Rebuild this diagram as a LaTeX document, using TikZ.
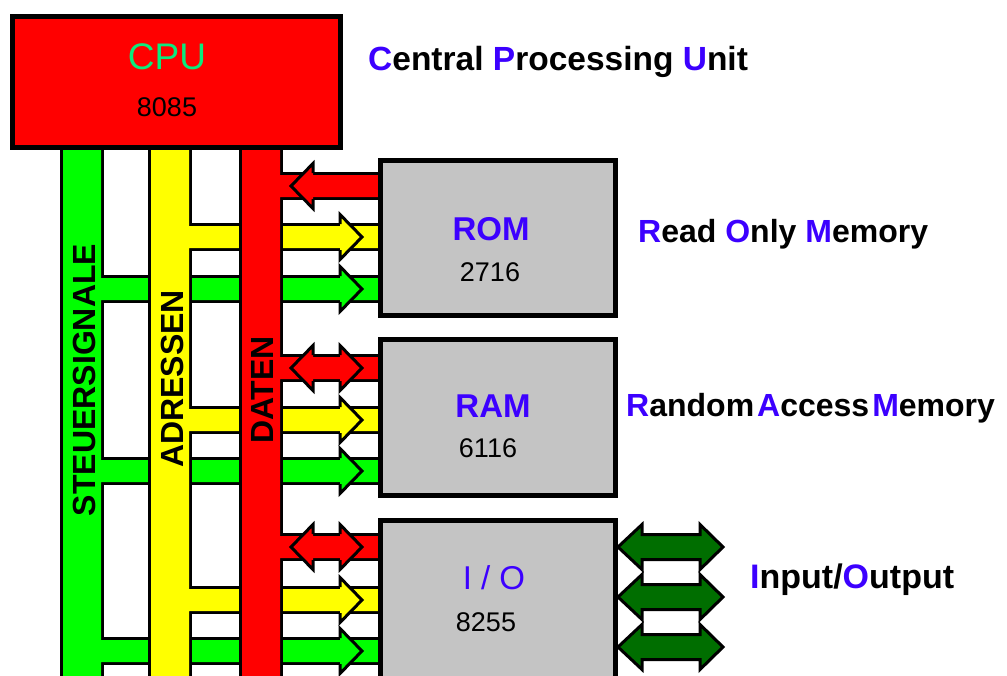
\documentclass[tikz,border=0pt]{standalone}
\usepackage{fontspec}
\setmainfont{Liberation Sans}
\definecolor{cgreen}{RGB}{0,255,0}
\definecolor{cyellow}{RGB}{255,255,0}
\definecolor{cred}{RGB}{255,0,0}
\definecolor{cgray}{RGB}{196,196,196}
\definecolor{cblue}{RGB}{60,0,255}
\definecolor{ccpu}{RGB}{10,235,125}
\definecolor{cdark}{RGB}{0,110,0}
\newcommand\capb[1]{\textcolor{cblue}{#1}}
\newcommand\rhead[2]{%
  \fill[#2] (340,#1-22.5) -- (362,#1) -- (340,#1+22.5) -- cycle;
  \draw[line width=3pt] (340,#1-13) -- (340,#1-22.5) -- (362,#1) -- (340,#1+22.5) -- (340,#1+13);}
\newcommand\lhead[2]{%
  \fill[#2] (313,#1-22.5) -- (291,#1) -- (313,#1+22.5) -- cycle;
  \draw[line width=3pt] (313,#1-13) -- (313,#1-22.5) -- (291,#1) -- (313,#1+22.5) -- (313,#1+13);}
\tikzset{
  busgroup/.style={fill=#1, preaction={draw=black, line width=6pt}},
  membox/.style={draw=black, line width=5pt, fill=cgray, minimum width=235pt, inner sep=0pt},
  cpubox/.style={draw=black, line width=5pt, fill=cred, minimum width=328pt, minimum height=131pt, inner sep=0pt},
  lbl/.style={inner sep=0pt, outer sep=0pt},
  buslbl/.style={inner sep=0pt, rotate=90, font=\bfseries\fontsize{32}{36}\selectfont},
  sidelbl/.style={inner sep=0pt, anchor=base west, font=\bfseries\fontsize{32}{38}\selectfont},
  ioarrow/.style={fill=cdark, draw=black, line width=3pt}
}
\begin{document}
\begin{tikzpicture}[x=1pt,y=-1pt]
\useasboundingbox (0,0) rectangle (1007,675);
\clip (0,0) rectangle (1007,675);
\fill[white] (0,0) rectangle (1007,675);

% control bus (green)
\path[busgroup=cgreen] (63,140) rectangle (101,690)
  (101,278) rectangle (380,300)
  (101,460) rectangle (380,482)
  (101,640) rectangle (380,662);
% address bus (yellow)
\path[busgroup=cyellow] (151,140) rectangle (189,690)
  (189,226) rectangle (380,248)
  (189,409) rectangle (380,431)
  (189,589) rectangle (380,611);
% data bus (red)
\path[busgroup=cred] (242,140) rectangle (280,690)
  (280,175) rectangle (380,197)
  (280,357) rectangle (380,379)
  (280,536) rectangle (380,558);

% arrow heads
\lhead{186}{cred}
\rhead{237}{cyellow}
\rhead{289}{cgreen}
\lhead{368}{cred}
\rhead{368}{cred}
\rhead{420}{cyellow}
\rhead{471}{cgreen}
\lhead{547}{cred}
\rhead{547}{cred}
\rhead{600}{cyellow}
\rhead{651}{cgreen}

% boxes
\node[cpubox] (cpu) at (176.5,82) {};
\node[membox, minimum height=155pt] (rom) at (498,238) {};
\node[membox, minimum height=156pt] (ram) at (498,417.5) {};
\node[membox, minimum height=160pt] (io) at (498,600.5) {};

% I/O port arrows
\foreach \c in {547,597,647} {
  \draw[ioarrow] (618,\c) -- (642,\c-22.5) -- (642,\c-12.5) -- (700,\c-12.5)
    -- (700,\c-22.5) -- (723,\c) -- (700,\c+22.5) -- (700,\c+12.5)
    -- (642,\c+12.5) -- (642,\c+22.5) -- cycle;
}

% texts in boxes
\node[lbl, text=ccpu, font=\fontsize{37}{40}\selectfont] (cputxt) at (167,57) {CPU};
\node[lbl, font=\fontsize{27}{30}\selectfont] (cpunum) at (167,107) {8085};
\node[lbl, text=cblue, font=\bfseries\fontsize{33}{36}\selectfont] (romtxt) at (491,229) {ROM};
\node[lbl, font=\fontsize{27}{30}\selectfont] (romnum) at (490,272) {2716};
\node[lbl, text=cblue, font=\bfseries\fontsize{33}{36}\selectfont] (ramtxt) at (493,406) {RAM};
\node[lbl, font=\fontsize{27}{30}\selectfont] (ramnum) at (488,448) {6116};
\node[lbl, text=cblue, font=\fontsize{33}{36}\selectfont] (iotxt) at (494,578) {I / O};
\node[lbl, font=\fontsize{27}{30}\selectfont] (ionum) at (486,622) {8255};

% bus labels
\node[buslbl] (steuer) at (84,380) {STEUERSIGNALE};
\node[buslbl] (adr) at (172,379) {ADRESSEN};
\node[buslbl] (daten) at (262,390) {DATEN};

% side labels
\node[sidelbl, font=\bfseries\fontsize{33.5}{38}\selectfont] (cpulong) at (368,70) {\capb{C}entral \capb{P}rocessing \capb{U}nit};
\node[sidelbl] (romlong) at (638,242) {\capb{R}ead \capb{O}nly \capb{M}emory};
\node[sidelbl] (ramlong) at (626,416) {\capb{R}andom\hspace{3pt}\capb{A}ccess\hspace{3pt}\capb{M}emory};
\node[sidelbl, font=\bfseries\fontsize{34}{38}\selectfont] (iolong) at (750,588) {\capb{I}nput/\capb{O}utput};
\end{tikzpicture}
\end{document}
